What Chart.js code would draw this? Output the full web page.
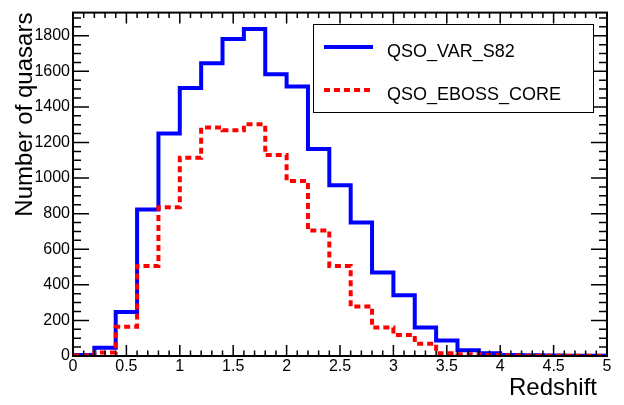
<!DOCTYPE html>
<html>
<head>
<meta charset="utf-8">
<script src="https://cdn.jsdelivr.net/npm/chart.js@4/dist/chart.umd.min.js"></script>
<style>
  html, body { margin: 0; padding: 0; background: #fff; }
  #chart { display: block; }
</style>
</head>
<body>
<canvas id="chart" width="624" height="405"></canvas>
<script>
// redshift histogram, 25 bins of 0.2
const binEdges = [0, 0.2, 0.4, 0.6, 0.8, 1.0, 1.2, 1.4, 1.6, 1.8, 2.0, 2.2, 2.4,
                  2.6, 2.8, 3.0, 3.2, 3.4, 3.6, 3.8, 4.0, 4.2, 4.4, 4.6, 4.8, 5.0];
const qsoVarS82 = [5, 47, 247, 824, 1251, 1506, 1646, 1782, 1838, 1584, 1515, 1164, 960,
                   751, 469, 342, 160, 87, 33, 15, 6, 4, 3, 2, 1];
const qsoEbossCore = [3, 20, 165, 506, 836, 1114, 1284, 1269, 1302, 1129, 984, 705, 506,
                      278, 160, 118, 69, 15, 10, 5, 3, 2, 1, 1, 1];
const seriesNames = ['QSO_VAR_S82', 'QSO_EBOSS_CORE'];
const xTicks = [0, 0.5, 1, 1.5, 2, 2.5, 3, 3.5, 4, 4.5, 5];
const yTicks = [0, 200, 400, 600, 800, 1000, 1200, 1400, 1600, 1800];
const xTitle = 'Redshift';
const yTitle = 'Number of quasars';
const yMax = 1930;

const FONT = '"Liberation Sans", Arial, sans-serif';

function histPoints(counts) {
    // point at each bin's low edge, plus the closing edge
    const pts = counts.map((c, i) => ({ x: binEdges[i], y: c }));
    pts.push({ x: binEdges[counts.length], y: counts[counts.length - 1] });
    return pts;
}

// ROOT-like frame: inward ticks on all four sides, titles, boxed legend
const rootFrame = {
    id: 'rootFrame',
    afterDraw(chart) {
        const { ctx, chartArea: a, scales: { x, y } } = chart;
        ctx.save();
        ctx.strokeStyle = '#000';
        ctx.lineWidth = 2;
        ctx.strokeRect(a.left, a.top, a.right - a.left, a.bottom - a.top);

        ctx.lineWidth = 1.5;
        ctx.beginPath();
        for (let k = 0; k <= 50; k++) {
            const px = x.getPixelForValue(k / 10);
            const len = k % 5 === 0 ? 11 : 5.5;
            ctx.moveTo(px, a.bottom); ctx.lineTo(px, a.bottom - len);
            ctx.moveTo(px, a.top); ctx.lineTo(px, a.top + len);
        }
        for (let v = 0; v <= yMax; v += 50) {
            const py = y.getPixelForValue(v);
            const len = v % 200 === 0 ? 16 : 8;
            ctx.moveTo(a.left, py); ctx.lineTo(a.left + len, py);
            ctx.moveTo(a.right, py); ctx.lineTo(a.right - len, py);
        }
        ctx.stroke();

        // axis titles
        ctx.fillStyle = '#000';
        ctx.font = '24px ' + FONT;
        ctx.textAlign = 'right';
        ctx.textBaseline = 'alphabetic';
        ctx.fillText(xTitle, a.right - 10, a.bottom + 39);
        ctx.save();
        ctx.translate(a.left - 41, a.top);
        ctx.rotate(-Math.PI / 2);
        ctx.fillText(yTitle, 0, 0);
        ctx.restore();

        // legend
        const box = { left: 313, top: 24, right: 593, bottom: 112 };
        ctx.fillStyle = '#fff';
        ctx.fillRect(box.left, box.top, box.right - box.left, box.bottom - box.top);
        ctx.lineWidth = 1;
        ctx.strokeRect(box.left + 0.5, box.top + 0.5, box.right - box.left, box.bottom - box.top);
        const rows = [47, 90];
        chart.data.datasets.forEach((ds, i) => {
            const ly = rows[i];
            ctx.strokeStyle = ds.borderColor;
            ctx.lineWidth = ds.borderWidth;
            ctx.setLineDash(ds.borderDash || []);
            ctx.beginPath();
            ctx.moveTo(324, ly);
            ctx.lineTo(373, ly);
            ctx.stroke();
            ctx.setLineDash([]);
            ctx.fillStyle = '#000';
            ctx.font = '18px ' + FONT;
            ctx.textAlign = 'left';
            ctx.fillText(ds.label, 387, ly + 10);
        });
        ctx.restore();
    }
};

new Chart(document.getElementById('chart'), {
    type: 'line',
    data: {
        datasets: [
            {
                label: seriesNames[0],
                data: histPoints(qsoVarS82),
                borderColor: '#0000ff',
                borderWidth: 4,
                stepped: 'before',
                pointRadius: 0,
                fill: false,
                order: 1
            },
            {
                label: seriesNames[1],
                data: histPoints(qsoEbossCore),
                borderColor: '#ff0000',
                borderWidth: 4,
                borderDash: [6, 4],
                stepped: 'before',
                pointRadius: 0,
                fill: false,
                order: 0
            }
        ]
    },
    options: {
        responsive: false,
        animation: false,
        devicePixelRatio: 1,
        layout: { padding: { top: 2, right: 17, left: 0, bottom: 0 } },
        plugins: {
            legend: { display: false },
            tooltip: { enabled: false }
        },
        scales: {
            x: {
                type: 'linear',
                min: 0,
                max: 5,
                grid: { display: false, drawTicks: false },
                border: { display: false },
                afterBuildTicks: (s) => { s.ticks = xTicks.map(v => ({ value: v })); },
                afterFit: (s) => { s.height = 49; },
                ticks: {
                    autoSkip: false,
                    maxRotation: 0,
                    padding: 1,
                    color: '#000',
                    font: { family: FONT, size: 16 },
                    callback: (v) => String(v)
                }
            },
            y: {
                min: 0,
                max: yMax,
                grid: { display: false, drawTicks: false },
                border: { display: false },
                afterBuildTicks: (s) => { s.ticks = yTicks.map(v => ({ value: v })); },
                afterFit: (s) => { s.width = 73; },
                ticks: {
                    padding: 3,
                    color: '#000',
                    font: { family: FONT, size: 16 },
                    callback: (v) => String(v)
                }
            }
        }
    },
    plugins: [rootFrame]
});
</script>
</body>
</html>
